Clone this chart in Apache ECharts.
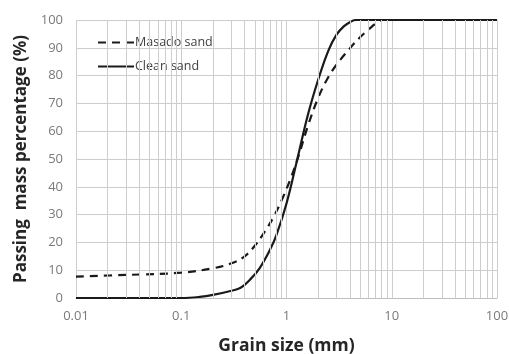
<!DOCTYPE html>
<html>
<head>
<meta charset="utf-8">
<script src="https://cdn.jsdelivr.net/npm/echarts@6/dist/echarts.min.js"></script>
<style>
  html, body { margin: 0; padding: 0; background: #fff; }
  #chart { width: 509px; height: 354px; }
</style>
</head>
<body>
<div id="chart"></div>
<script>
// grain size (mm) and passing percentage
const masadoSize = [0.01, 0.03, 0.1, 0.2, 0.3, 0.4, 0.5, 0.6, 0.75, 0.93, 1.12, 1.3, 1.6, 2.0, 2.5, 3.0, 4.0, 5.0, 6.0, 7.45, 8.2, 100]
const masadoPass = [7.7, 8.3, 9.1, 10.7, 12.5, 15, 18.8, 23, 29, 36.4, 44, 51, 62, 72, 79.5, 84, 89.8, 93.8, 96.5, 99.4, 100, 100]
const cleanSize = [0.01, 0.1, 0.15, 0.2, 0.3, 0.37, 0.45, 0.55, 0.7, 0.8, 1.0, 1.25, 1.6, 2.0, 2.5, 3.0, 3.5, 4.0, 4.6, 100]
const cleanPass = [0, 0, 0.4, 1.1, 2.6, 3.8, 6.6, 10.5, 17.5, 22.5, 34, 49, 66, 78.5, 89, 94.8, 97.7, 99.2, 100, 100]
const seriesNames = ['Masado sand', 'Clean sand']
const xTicks = [0.01, 0.1, 1, 10, 100]
// minor log grid lines (2..9 in each decade)
const minorGrid = []
xTicks.slice(0, -1).forEach(d => {
  for (let k = 2; k <= 9; k++) minorGrid.push(+(d * k).toPrecision(3))
})

const chart = echarts.init(document.getElementById('chart'))
const zip = (xs, ys) => xs.map((x, i) => [x, ys[i]])
const gridColor = '#cdcdcd'
const lineColor = '#1a1a1a'

chart.setOption({
  animation: false,
  grid: { left: 76, right: 12, top: 20, bottom: 56, outerBoundsMode: 'none' },
  legend: {
    orient: 'vertical',
    left: 92,
    top: 31,
    itemWidth: 36,
    itemHeight: 14,
    itemGap: 11,
    itemStyle: { opacity: 0 },
    textStyle: { fontFamily: 'Open Sans', fontSize: 12.5, color: '#404040', padding: [0, 0, 0, -4] },
    data: seriesNames
  },
  xAxis: {
    type: 'log',
    logBase: 10,
    min: 0.01,
    max: 100,
    name: 'Grain size (mm)',
    nameLocation: 'middle',
    nameGap: 39,
    nameTextStyle: { fontFamily: 'Open Sans', fontWeight: 'bold', fontSize: 17.5, color: '#262626' },
    axisLine: { lineStyle: { color: '#bfbfbf' } },
    axisTick: { show: false },
    axisLabel: {
      fontFamily: 'Open Sans', fontSize: 13, color: '#7a7a7a', margin: 12,
      formatter: v => String(+v.toPrecision(3))
    },
    splitLine: { show: true, lineStyle: { color: gridColor, width: 1 } }
  },
  yAxis: {
    type: 'value',
    min: 0,
    max: 100,
    interval: 10,
    name: 'Passing  mass percentage (%)',
    nameLocation: 'middle',
    nameGap: 46,
    nameTextStyle: { fontFamily: 'Open Sans', fontWeight: 'bold', fontSize: 17, color: '#262626' },
    axisLine: { show: false },
    axisTick: { show: false },
    axisLabel: { fontFamily: 'Open Sans', fontSize: 13, color: '#7a7a7a', margin: 13 },
    splitLine: { show: true, lineStyle: { color: gridColor, width: 1 } }
  },
  series: [
    {
      name: 'grid',
      type: 'line',
      data: [],
      z: 1,
      silent: true,
      markLine: {
        silent: true,
        symbol: 'none',
        label: { show: false },
        lineStyle: { color: gridColor, width: 1, type: 'solid' },
        emphasis: { disabled: true },
        data: minorGrid.map(v => ({ xAxis: v }))
      }
    },
    {
      name: seriesNames[0],
      type: 'line',
      data: zip(masadoSize, masadoPass),
      smooth: 0.4,
      symbol: 'none',
      z: 3,
      lineStyle: { color: lineColor, width: 2.2, type: [8, 6] },
      itemStyle: { color: lineColor }
    },
    {
      name: seriesNames[1],
      type: 'line',
      data: zip(cleanSize, cleanPass),
      smooth: 0.4,
      symbol: 'none',
      z: 4,
      lineStyle: { color: lineColor, width: 2.2, type: 'solid' },
      itemStyle: { color: lineColor }
    }
  ]
})
</script>
</body>
</html>
